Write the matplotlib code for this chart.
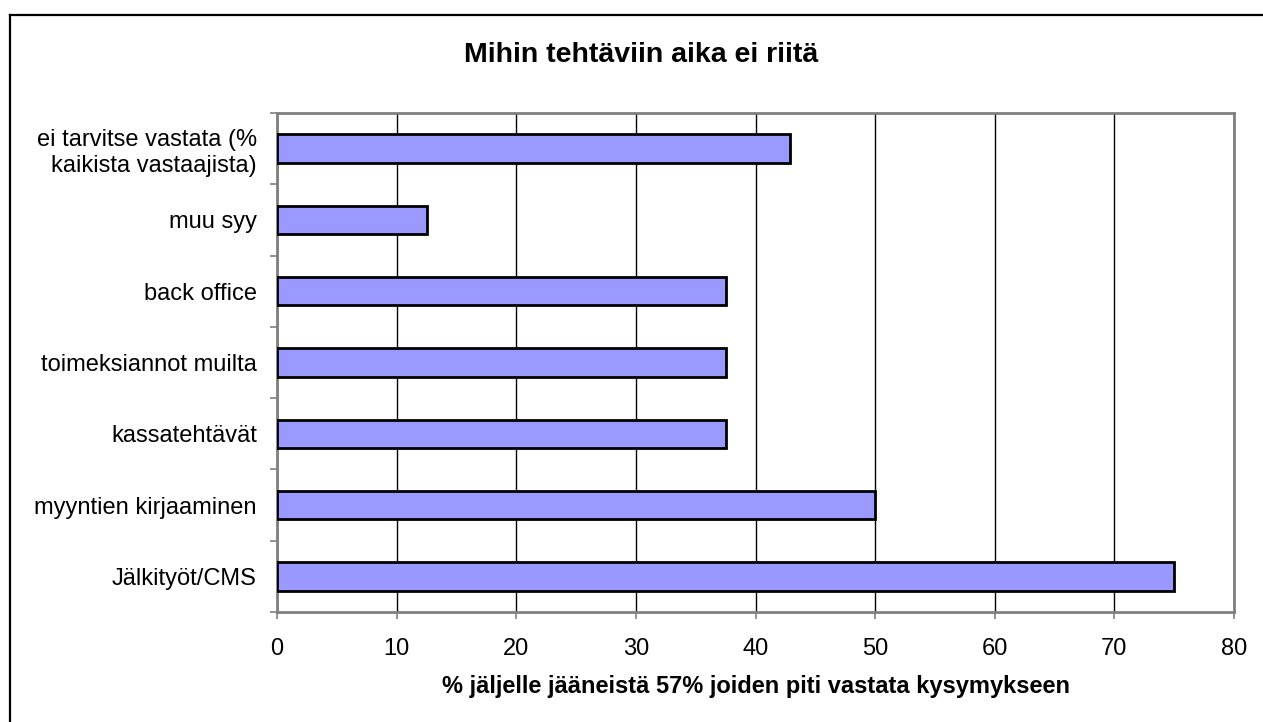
import matplotlib
matplotlib.use("Agg")
import matplotlib.pyplot as plt
import numpy as np
from matplotlib.lines import Line2D

plt.rcParams['font.family'] = ['Liberation Sans', 'DejaVu Sans']

categories = [
    "ei tarvitse vastata (%\nkaikista vastaajista)",
    "muu syy",
    "back office",
    "toimeksiannot muilta",
    "kassatehtävät",
    "myyntien kirjaaminen",
    "Jälkityöt/CMS",
]
values = [42.9, 12.5, 37.5, 37.5, 37.5, 50.0, 75.0]
x_ticks = [0, 10, 20, 30, 40, 50, 60, 70, 80]

title = "Mihin tehtäviin aika ei riitä"
x_label = "% jäljelle jääneistä 57% joiden piti vastata kysymykseen"

W, H = 1263, 722
fig = plt.figure(figsize=(W / 100, H / 100), dpi=100)
ax = fig.add_axes([277 / W, 1 - 612 / H, (1234 - 277) / W, (612 - 113) / H])

n = len(categories)
ypos = np.arange(n)[::-1]
ax.barh(ypos, values, height=0.4, color="#9999FF", edgecolor="black", linewidth=2, zorder=3)

ax.set_xlim(0, 80)
ax.set_ylim(-0.5, n - 0.5)
ax.set_xticks(x_ticks)
ax.set_xticklabels([str(t) for t in x_ticks], fontsize=17)
ax.xaxis.grid(True, color="black", linewidth=1)
ax.set_axisbelow(True)

ax.set_yticks(ypos)
ax.set_yticklabels(categories, fontsize=17, linespacing=1.2)
ax.set_yticks(np.arange(-0.5, n, 1.0), minor=True)
ax.tick_params(axis="y", which="major", length=0, pad=14.4)
ax.tick_params(axis="y", which="minor", length=5, width=1.2, color="#808080", direction="out")
ax.tick_params(axis="x", length=5, width=1.2, color="#808080", direction="out", pad=13.5)

for s in ax.spines.values():
    s.set_color("#808080")
    s.set_linewidth(2)

fig.text(755.5 / W, 1 - 693 / H, x_label, ha="center", va="baseline",
         fontsize=17, fontweight="bold")

fig.text(641 / W, 1 - 55 / H, title, ha="center", va="center",
         fontsize=20.5, fontweight="bold")

# outer chart frame
fig.add_artist(Line2D([10 / W, 10 / W], [0, 1 - 15 / H], transform=fig.transFigure,
                      color="black", linewidth=1.6))
fig.add_artist(Line2D([10 / W, 1], [1 - 15 / H, 1 - 15 / H], transform=fig.transFigure,
                      color="black", linewidth=1.6))

fig.savefig("out.png", dpi=100)
